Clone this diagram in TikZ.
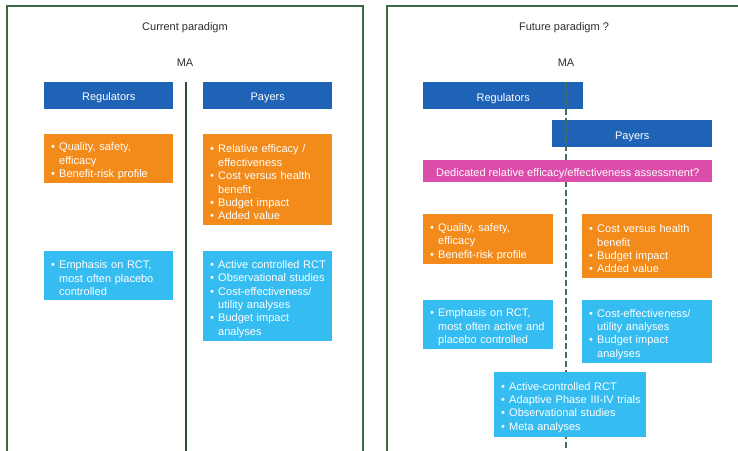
\documentclass[tikz,border=0pt]{standalone}
\usepackage{fontspec}
\setmainfont{Liberation Sans}
\definecolor{frame}{HTML}{3B6A44}
\definecolor{axis}{HTML}{2A4F31}
\definecolor{dashaxis}{HTML}{44704E}
\definecolor{hdr}{HTML}{1E63B6}
\definecolor{orng}{HTML}{F38B1A}
\definecolor{sky}{HTML}{35BDF2}
\definecolor{mag}{HTML}{DC4DAB}
\definecolor{ttl}{HTML}{2E2E2E}
% bullet item with hanging indent, closed as its own paragraph
\newcommand\bi[1]{\par\noindent\leftskip=2bp\relax\hangindent=8bp\hangafter=1\makebox[8bp][l]{•}#1\par}
\begin{document}
\begin{tikzpicture}[x=1bp,y=-1bp,
  every node/.style={font=\fontsize{11bp}{13.4bp}\selectfont},
  title/.style={text=ttl, inner sep=0pt},
  hdrbox/.style={fill=hdr, text=white, anchor=north west, inner sep=0pt, align=center,
                 text height=11bp, text depth=0bp},
  listbox/.style={text=white, anchor=north west, inner xsep=5bp, inner ysep=2bp, align=left},
  framepen/.style={draw=frame, line width=1.6bp},
]
\useasboundingbox (0,0) rectangle (738,451);

% panel frames (open at the bottom)
\draw[framepen] (7,451) -- (7,6) -- (363,6) -- (363,451);
\draw[framepen] (387,451) -- (387,6) -- (738,6);

% ---------- current paradigm ----------
\node[title] (t1) at (185,27.5) {Current paradigm};
\node[title] (ma1) at (185,62.5) {MA};
\coordinate (ax1top) at (186,82);
\coordinate (ax1bot) at (186,451);
\draw[axis, line width=1.6bp] (ax1top) -- (ax1bot);

\node[hdrbox, minimum width=129bp, minimum height=26.5bp] (reg1) at (44,82) {Regulators};
\node[hdrbox, minimum width=129bp, minimum height=26.5bp] (pay1) at (203,82) {Payers};

\node[listbox, fill=orng, text width=119bp, minimum height=49bp] (o1l) at (44,134)
  {\bi{Quality, safety,\newline efficacy}\bi{Benefit-risk profile}};
\node[listbox, fill=orng, text width=119bp, minimum height=91bp] (o1r) at (203,134)
  {\bi{Relative efficacy /\newline effectiveness}\bi{Cost versus health\newline benefit}\bi{Budget impact}\bi{Added value}};
\node[listbox, fill=sky, text width=119bp, minimum height=49bp] (b1l) at (44,251)
  {\bi{Emphasis on RCT,\newline most often placebo\newline controlled}};
\node[listbox, fill=sky, text width=119bp, minimum height=90bp] (b1r) at (203,251)
  {\bi{Active controlled RCT}\bi{Observational studies}\bi{Cost-effectiveness/\newline utility analyses}\bi{Budget impact\newline analyses}};

% ---------- future paradigm ----------
\node[title] (t2) at (564,27.5) {Future paradigm ?};
\node[title] (ma2) at (566,62.5) {MA};

\node[hdrbox, minimum width=160bp, minimum height=27bp] (reg2) at (423,82) {Regulators};
\node[hdrbox, minimum width=160bp, minimum height=27bp] (pay2) at (552,120) {Payers};

\coordinate (ax2top) at (566,82);
\coordinate (ax2bot) at (566,451);
\draw[dashaxis, line width=1.6bp, dash pattern=on 6bp off 3bp] (ax2top) -- (ax2bot);

\node[hdrbox, fill=mag, minimum width=289bp, minimum height=22bp] (rea) at (423,160)
  {Dedicated relative efficacy/effectiveness assessment?};

\node[listbox, fill=orng, text width=120bp, minimum height=50bp] (o2l) at (423,214)
  {\bi{Quality, safety,\newline efficacy}\bi{Benefit-risk profile}};
\node[listbox, fill=orng, text width=120bp, minimum height=64bp] (o2r) at (582,214)
  {\bi{Cost versus health\newline benefit}\bi{Budget impact}\bi{Added value}};
\node[listbox, fill=sky, text width=120bp, minimum height=49bp] (b2l) at (423,300)
  {\bi{Emphasis on RCT,\newline most often active and\newline placebo controlled}};
\node[listbox, fill=sky, text width=120bp, minimum height=63bp] (b2r) at (582,300)
  {\bi{Cost-effectiveness/\newline utility analyses}\bi{Budget impact\newline analyses}};
\node[listbox, fill=sky, text width=142bp, minimum height=65bp] (b2c) at (494,372)
  {\bi{Active-controlled RCT}\bi{Adaptive Phase III-IV trials}\bi{Observational studies}\bi{Meta analyses}};
\end{tikzpicture}
\end{document}
